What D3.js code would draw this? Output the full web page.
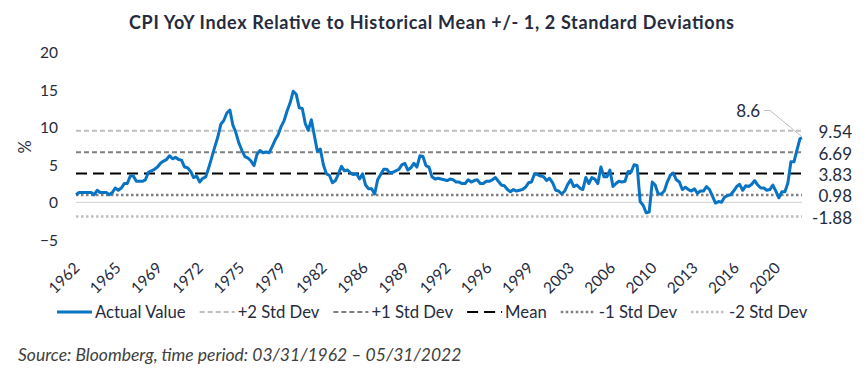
<!DOCTYPE html>
<html>
<head>
<meta charset="utf-8">
<script src="https://cdn.jsdelivr.net/npm/d3@7"></script>
<style>
  html, body { margin: 0; padding: 0; background: #ffffff; }
  svg { display: block; font-family: Lato, "Noto Sans", sans-serif; }
</style>
</head>
<body>
<svg id="chart" width="864" height="378"></svg>
<script>
// ---------------- DATA ----------------
const title = "CPI YoY Index Relative to Historical Mean +/- 1, 2 Standard Deviations";
const sourceNote = "Source: Bloomberg, time period: 03/31/1962 \u2013 05/31/2022";

// Quarter-end observations from 03/1962 to 03/2022, plus 05/2022
const firstObs = "1962-03-31";
const lastObs = "2022-05-31";
const cpiYoY = [
  1.0, 1.3, 1.3, 1.3,     // 1962
  1.3, 1.3, 1.0, 1.6,     // 1963
  1.3, 1.3, 1.3, 1.0,     // 1964
  1.3, 1.9, 1.6, 1.9,     // 1965
  2.5, 2.5, 3.5, 3.5,     // 1966
  2.8, 2.8, 2.8, 3.0,     // 1967
  4.0, 4.2, 4.4, 4.7,     // 1968
  5.2, 5.5, 5.7, 6.2,     // 1969
  5.8, 6.0, 5.7, 5.6,     // 1970
  4.7, 4.6, 4.1, 3.3,     // 1971
  3.5, 2.7, 3.2, 3.4,     // 1972
  4.6, 6.0, 7.4, 8.7,     // 1973
  10.4, 10.9, 11.9, 12.3, // 1974
  10.3, 9.3, 7.9, 6.9,    // 1975
  6.1, 5.9, 5.5, 4.9,     // 1976
  6.4, 6.9, 6.6, 6.7,     // 1977
  6.6, 7.4, 8.3, 9.0,     // 1978
  10.1, 10.9, 12.2, 13.3, // 1979
  14.8, 14.4, 12.6, 12.5, // 1980
  10.5, 9.6, 11.0, 8.9,   // 1981
  6.8, 7.1, 5.0, 3.8,     // 1982
  3.6, 2.6, 2.9, 3.8,     // 1983
  4.8, 4.2, 4.3, 3.9,     // 1984
  3.7, 3.8, 3.1, 3.8,     // 1985
  2.3, 1.8, 1.8, 1.1,     // 1986
  3.0, 3.7, 4.4, 4.4,     // 1987
  3.9, 4.0, 4.2, 4.4,     // 1988
  5.0, 5.2, 4.3, 4.6,     // 1989
  5.2, 4.7, 6.2, 6.1,     // 1990
  4.9, 4.7, 3.4, 3.1,     // 1991
  3.2, 3.1, 3.0, 2.9,     // 1992
  3.1, 3.0, 2.7, 2.7,     // 1993
  2.5, 2.5, 3.0, 2.7,     // 1994
  2.9, 3.0, 2.5, 2.5,     // 1995
  2.8, 2.8, 3.0, 3.3,     // 1996
  2.8, 2.3, 2.2, 1.7,     // 1997
  1.4, 1.7, 1.5, 1.6,     // 1998
  1.7, 2.0, 2.6, 2.7,     // 1999
  3.8, 3.7, 3.5, 3.4,     // 2000
  2.9, 3.2, 2.6, 1.6,     // 2001
  1.5, 1.1, 1.5, 2.4,     // 2002
  3.0, 2.1, 2.3, 1.9,     // 2003
  1.7, 3.3, 2.5, 3.3,     // 2004
  3.1, 2.5, 4.7, 3.4,     // 2005
  3.4, 4.3, 2.1, 2.5,     // 2006
  2.8, 2.7, 2.8, 4.1,     // 2007
  4.0, 5.0, 4.9, 0.1,     // 2008
  -0.4, -1.4, -1.3, 2.7,  // 2009
  2.3, 1.1, 1.1, 1.5,     // 2010
  2.7, 3.6, 3.9, 3.0,     // 2011
  2.7, 1.7, 2.0, 1.7,     // 2012
  1.5, 1.8, 1.2, 1.5,     // 2013
  1.5, 2.1, 1.7, 0.8,     // 2014
  -0.1, 0.1, 0.0, 0.7,    // 2015
  0.9, 1.0, 1.5, 2.1,     // 2016
  2.4, 1.6, 2.2, 2.1,     // 2017
  2.4, 2.9, 2.3, 1.9,     // 2018
  1.9, 1.6, 1.7, 2.3,     // 2019
  1.5, 0.6, 1.4, 1.4,     // 2020
  2.6, 5.4, 5.4, 7.0,     // 2021
  8.5, 8.6                // 2022 (Mar, May)
];

const bandNames  = ["+2 Std Dev", "+1 Std Dev", "Mean", "-1 Std Dev", "-2 Std Dev"];
const bandValues = [9.54, 6.69, 3.83, 0.98, -1.88];
const bandLabels = ["9.54", "6.69", "3.83", "0.98", "-1.88"];

const yTicks = [-5, 0, 5, 10, 15, 20];
const xTickDates  = ["1962-03","1965-08","1969-01","1972-06","1975-11","1979-04","1982-09","1986-02","1989-07",
                     "1992-12","1996-05","1999-10","2003-03","2006-08","2010-01","2013-06","2016-11","2020-04"];
const xTickLabels = ["1962","1965","1969","1972","1975","1979","1982","1986","1989",
                     "1992","1996","1999","2003","2006","2010","2013","2016","2020"];
const lastLabel = "8.6";
const seriesName = "Actual Value";

// ---------------- BUILD ----------------
const parseDay = d3.timeParse("%Y-%m-%d");
const parseMonth = d3.timeParse("%Y-%m");
const startDate = parseDay(firstObs);
const endDate = parseDay(lastObs);

// quarter-end dates for every value, last one is the final observation date
const obs = cpiYoY.map((v, i) => {
  let date;
  if (i === cpiYoY.length - 1) date = endDate;
  else date = d3.timeDay.offset(d3.timeMonth.offset(new Date(1962, 3, 1), 3 * i), -1);
  return { date, value: v };
});

const styles = {
  "+2 Std Dev": { color: "#BFBFBF", width: 2, dash: "5,3", cap: "butt" },
  "+1 Std Dev": { color: "#808080", width: 2, dash: "5,3", cap: "butt" },
  "Mean":       { color: "#000000", width: 2, dash: "11,6", cap: "butt" },
  "-1 Std Dev": { color: "#808080", width: 2.5, dash: "2.5,2.5", cap: "butt" },
  "-2 Std Dev": { color: "#BFBFBF", width: 2.5, dash: "2.5,2.5", cap: "butt" }
};
const lineColor = "#0A74C4";
const textColor = "#262B3D";

const svg = d3.select("#chart");

const x = d3.scaleTime().domain([startDate, endDate]).range([76, 802]);
const y = d3.scaleLinear().domain([-5, 20]).range([239.8, 52.3]);

// Title
svg.append("text")
  .attr("x", 431.5).attr("y", 28.5)
  .attr("text-anchor", "middle")
  .attr("font-weight", 700)
  .attr("font-size", 18)
  .attr("textLength", 605)
  .attr("lengthAdjust", "spacing")
  .attr("fill", textColor)
  .text(title);

// Zero line
svg.append("line")
  .attr("x1", x(startDate)).attr("x2", x(endDate))
  .attr("y1", y(0)).attr("y2", y(0))
  .attr("stroke", "#D9D9D9").attr("stroke-width", 1.2);

// Std dev lines
bandNames.forEach((name, i) => {
  const s = styles[name];
  svg.append("line")
    .attr("x1", x(startDate)).attr("x2", x(endDate))
    .attr("y1", y(bandValues[i])).attr("y2", y(bandValues[i]))
    .attr("stroke", s.color).attr("stroke-width", s.width)
    .attr("stroke-dasharray", s.dash).attr("stroke-linecap", s.cap);
  svg.append("text")
    .attr("x", 852).attr("y", y(bandValues[i]) + 7.5)
    .attr("text-anchor", "end")
    .attr("font-size", 17)
    .attr("fill", textColor)
    .text(bandLabels[i]);
});

// Y axis
const yAxis = svg.append("g")
  .attr("transform", "translate(58,0)")
  .call(d3.axisLeft(y).tickValues(yTicks).tickSize(0).tickPadding(0));
yAxis.select(".domain").remove();
yAxis.selectAll("text")
  .attr("font-family", "Lato, sans-serif")
  .attr("font-size", 15.5)
  .attr("fill", textColor)
  .attr("dy", "0.36em");

// Y axis title
svg.append("text")
  .attr("transform", "translate(31,147) rotate(-90)")
  .attr("text-anchor", "middle")
  .attr("font-size", 16.5)
  .attr("fill", textColor)
  .text("%");

// X axis
const xTickDateObjs = xTickDates.map(parseMonth);
const xAxis = svg.append("g")
  .call(d3.axisBottom(x).tickValues(xTickDateObjs).tickSize(0)
        .tickFormat((d, i) => xTickLabels[i]));
xAxis.select(".domain").remove();
xAxis.selectAll("text")
  .attr("font-family", "Lato, sans-serif")
  .attr("font-size", 15.5)
  .attr("fill", textColor)
  .attr("y", 0).attr("dy", 0)
  .attr("text-anchor", "end")
  .attr("transform", "translate(5,269) rotate(-45)");

// Series line
const line = d3.line().x(d => x(d.date)).y(d => y(d.value));
svg.append("path")
  .datum(obs)
  .attr("fill", "none")
  .attr("stroke", lineColor)
  .attr("stroke-width", 3)
  .attr("stroke-linejoin", "round")
  .attr("d", line);

// Last value callout
const lastPt = obs[obs.length - 1];
const lx = x(lastPt.date), ly = y(lastPt.value);
svg.append("path")
  .attr("d", `M${lx},${ly - 1} L770,110.5 L764,110.5`)
  .attr("fill", "none")
  .attr("stroke", "#BFBFBF").attr("stroke-width", 1);
svg.append("text")
  .attr("x", 760).attr("y", 117)
  .attr("text-anchor", "end")
  .attr("font-size", 17)
  .attr("fill", textColor)
  .text(lastLabel);

// Legend
const legendItems = [seriesName].concat(bandNames);
const legend = svg.append("g").attr("transform", "translate(0,312)");
let cx = 57;
legendItems.forEach(name => {
  const g = legend.append("g");
  if (name === seriesName) {
    g.append("line").attr("x1", cx).attr("x2", cx + 35).attr("y1", 0).attr("y2", 0)
      .attr("stroke", lineColor).attr("stroke-width", 3);
  } else {
    const s = styles[name];
    g.append("line").attr("x1", cx).attr("x2", cx + 35).attr("y1", 0).attr("y2", 0)
      .attr("stroke", s.color).attr("stroke-width", s.width)
      .attr("stroke-dasharray", s.dash);
  }
  const t = g.append("text")
    .attr("x", cx + 38).attr("y", 6)
    .attr("font-size", 16.7)
    .attr("fill", textColor)
    .text(name);
  cx += 38 + t.node().getComputedTextLength() + 14;
});

// Source
svg.append("text")
  .attr("x", 18).attr("y", 361)
  .attr("font-style", "italic")
  .attr("font-size", 17.5)
  .attr("fill", "#404040")
  .text(sourceNote);
</script>
</body>
</html>
